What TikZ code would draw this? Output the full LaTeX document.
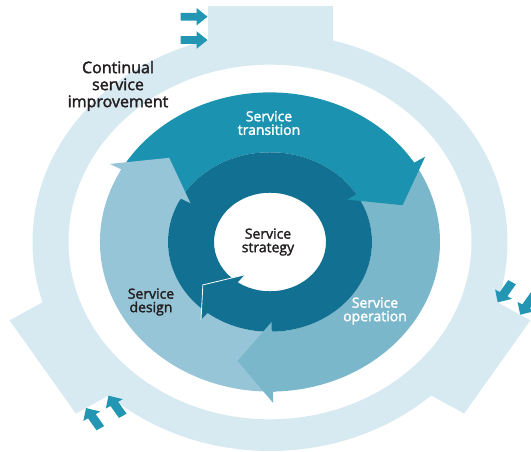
\documentclass[tikz,border=0pt]{standalone}
\usepackage{fontspec}
\setmainfont{Open Sans}
\newfontfamily\lblfont{Open Sans}[FakeBold=2]
\usepackage{tikz}
\definecolor{ringlight}{HTML}{D7EAF2}
\definecolor{trans}{HTML}{1B93B0}
\definecolor{oper}{HTML}{7AB7CB}
\definecolor{desgn}{HTML}{96C5D7}
\definecolor{strat}{HTML}{127192}
\definecolor{arrowteal}{HTML}{2396B3}
\definecolor{textdark}{HTML}{231F20}

\begin{document}
\begin{tikzpicture}[x=1pt,y=1pt,
  lbl/.style={align=center,inner sep=0pt,font=\lblfont\fontsize{14}{13.5}\selectfont}]
\useasboundingbox (0,-452) rectangle (531,0);
\begin{scope}[shift={(270,-242)},yscale=0.88]
\fill[ringlight,even odd rule] (0,0) circle (237.5) (0,0) circle (201.5);
\foreach \a in {90,-32,212}{
  \fill[ringlight,rotate=\a-90] (-62.5,215) -- (62.5,215) -- (62.5,268) -- (-62.5,268) -- cycle;
  \foreach \h in {256,229.5}
    \fill[arrowteal,rotate=\a-90] (-62.5,\h) -- ++(-11,10) -- ++(0,-5.5) -- ++(-16,0) -- ++(0,-9) -- ++(16,0) -- ++(0,-5.5) -- cycle;
}
\foreach \from/\to/\col in {151/32/trans, 32/-89/oper, 271/151/desgn}
  \fill[\col] (\from:102) arc[start angle=\from, end angle=\to, radius=102]
    -- (\to:170) arc[start angle=\to, end angle=\from, radius=170] -- cycle;
\fill[strat,even odd rule] (0,0) circle (102) (0,0) circle (56);
\foreach \a/\col in {151/desgn, 32/trans, -89/oper}
  \fill[\col] (\a+1:102) -- (\a:102) -- (\a:91) -- (\a-14.5:139) -- (\a:183)
    -- (\a:170) -- (\a+1:170) -- cycle;
\fill[strat] (-128:112) -- (-144:83) -- (-124:45) -- cycle;
\draw[white,line width=0.8] (-128:112) -- (-144:83) -- (-124:45);
\end{scope}
\node[align=center,inner sep=0pt,text=textdark,font=\lblfont\fontsize{16}{17}\selectfont] (csi) at (118,-86) {Continual\\service\\improvement};
\node[lbl,text=white] (transition) at (269,-123) {Service\\transition};
\node[lbl,text=white] (operation) at (375,-311) {Service\\operation};
\node[lbl,text=textdark] (design) at (151,-302) {Service\\design};
\node[lbl,text=textdark] (strategy) at (268,-242) {Service\\strategy};
\end{tikzpicture}
\end{document}
